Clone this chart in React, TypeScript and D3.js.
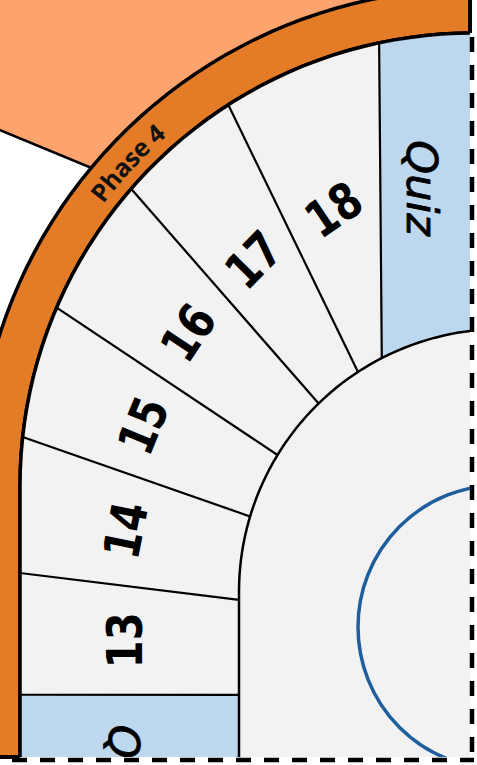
import React from "react";
import * as d3 from "d3";

// ring segments, from the top box round to the left side
const SEGMENTS = ["Quiz", "18", "17", "16", "15", "14", "13", "Quiz"];
const SEGMENT_KIND = ["quiz", "day", "day", "day", "day", "day", "day", "quiz"];
const PHASE_LABEL = "Phase 4";

// where each divider meets the outer / inner track (degrees along the track,
// 90 = top, 180 = left, past 180 = down the straight side)
const OUTER_STOPS = [78, 101.96, 122.7, 139.0, 156.8, 173.8, 191.0, 206.4, 245];
const INNER_STOPS = [84, 117.2, 123.2, 134.2, 148.6, 163.3, 181.7, 202.4, 245];

const W = 477;
const H = 765;
const CLIP_RIGHT = 470;
const CLIP_BOTTOM = 757;

const BAND = { cx: 473, cy: 486 };
const R_BAND_IN = 453;
const R_BAND_OUT = 497;
const HUB = { cx: 502, cy: 592 };
const R_HUB = 263;
const RING = { cx: 500, cy: 627, r: 142 };

const COLORS = {
  salmon: "#FDA46E",
  band: "#E47B27",
  day: "#F2F2F2",
  quiz: "#BDD7EE",
  ring: "#1F5E9C",
  ink: "#000",
};

const angle = d3.scaleLinear().domain([0, 180]).range([0, Math.PI]);
// label tilt: "18" (index 1) leans least, "13" (index 6) stands upright
const labelTilt = d3.scaleLinear().domain([1, 6]).range([-34, -90]);

function track(c: { cx: number; cy: number }, r: number, deg: number): [number, number] {
  if (deg <= 180) {
    const a = angle(deg);
    return [c.cx + r * Math.cos(a), c.cy - r * Math.sin(a)];
  }
  return [c.cx - r, c.cy + r * angle(deg - 180)];
}

function trackPts(c: { cx: number; cy: number }, r: number, d0: number, d1: number, n = 90) {
  return d3.range(n + 1).map((i) => track(c, r, d0 + ((d1 - d0) * i) / n));
}

const line = d3.line();

export default function App() {
  const bandPath =
    line([...trackPts(BAND, R_BAND_OUT, 70, 250), ...trackPts(BAND, R_BAND_IN, 250, 70)]) + "Z";

  const segPaths = SEGMENTS.map((label, i) => {
    const pts = [
      ...trackPts(BAND, R_BAND_IN, OUTER_STOPS[i], OUTER_STOPS[i + 1], 40),
      ...trackPts(HUB, R_HUB, INNER_STOPS[i + 1], INNER_STOPS[i], 40),
    ];
    return { label, kind: SEGMENT_KIND[i], d: line(pts) + "Z" };
  });

  const dividers = OUTER_STOPS.slice(1, -1).map((o, i) => [
    track(BAND, R_BAND_IN, o),
    track(HUB, R_HUB, INNER_STOPS[i + 1]),
  ]);

  const dayLabels = SEGMENTS.map((label, i) => {
    if (SEGMENT_KIND[i] !== "day") return null;
    const o = track(BAND, R_BAND_IN, (OUTER_STOPS[i] + OUTER_STOPS[i + 1]) / 2);
    const n = track(HUB, R_HUB, (INNER_STOPS[i] + INNER_STOPS[i + 1]) / 2);
    const t = 0.52;
    const x = n[0] + (o[0] - n[0]) * t;
    const y = n[1] + (o[1] - n[1]) * t;
    return { label, x, y, rot: labelTilt(i) };
  }).filter(Boolean) as { label: string; x: number; y: number; rot: number }[];

  // top quiz box label
  const topSep = track(BAND, R_BAND_IN, OUTER_STOPS[1]);
  const topX = (topSep[0] + CLIP_RIGHT) / 2;
  const topOuterY = BAND.cy - Math.sqrt(R_BAND_IN ** 2 - (topX - BAND.cx) ** 2);
  const topInnerY = HUB.cy - Math.sqrt(R_HUB ** 2 - (topX - HUB.cx) ** 2);
  const topY = (topOuterY + topInnerY) / 2;

  // bottom quiz box label
  const botSepO = track(BAND, R_BAND_IN, OUTER_STOPS[7]);
  const botSepI = track(HUB, R_HUB, INNER_STOPS[7]);
  const botX = (botSepO[0] + botSepI[0]) / 2 - 6;
  const botY = botSepO[1] + 30;

  const hubPts = trackPts(HUB, R_HUB, 40, 250, 120);
  const hubFill = line([...hubPts, [700, 1200], [700, 200]]) + "Z";
  const hubEdge = line(hubPts) || "";

  const phaseMid = 136.9;
  const phaseArc =
    line(trackPts(BAND, (R_BAND_IN + R_BAND_OUT) / 2, phaseMid + 35, phaseMid - 35, 60)) || "";

  const capTop = BAND.cy - Math.sqrt(R_BAND_IN ** 2 - (CLIP_RIGHT - BAND.cx) ** 2);
  const capLeft = BAND.cx - R_BAND_IN;

  return (
    <svg
      width={W}
      height={H}
      viewBox={`0 0 ${W} ${H}`}
      style={{ position: "fixed", left: 0, top: 0, background: "#fff" }}
    >
      <defs>
        <clipPath id="crop">
          <rect x={-20} y={-20} width={CLIP_RIGHT + 20} height={CLIP_BOTTOM + 20} />
        </clipPath>
        <path id="phaseArc" d={phaseArc} />
      </defs>
      <g clipPath="url(#crop)">
        <rect x={-20} y={-20} width={W + 40} height={H + 40} fill={COLORS.salmon} />
        <path d="M-10,126L140,188L140,800L-10,800Z" fill="#fff" />
        <path d="M-10,126L140,188" stroke={COLORS.ink} strokeWidth={2.5} fill="none" />

        <path d={bandPath} fill={COLORS.band} stroke={COLORS.ink} strokeWidth={3.5} />

        {segPaths.map((s, i) => (
          <path key={i} d={s.d} fill={s.kind === "quiz" ? COLORS.quiz : COLORS.day} />
        ))}
        {dividers.map((d, i) => (
          <path key={i} d={line(d) || ""} stroke={COLORS.ink} strokeWidth={2.2} />
        ))}

        <path d={hubFill} fill={COLORS.day} />
        <path d={hubEdge} fill="none" stroke={COLORS.ink} strokeWidth={2.5} />
        <path
          d={line(trackPts(BAND, R_BAND_IN, 70, 250)) || ""}
          fill="none"
          stroke={COLORS.ink}
          strokeWidth={3.5}
        />

        <circle cx={RING.cx} cy={RING.cy} r={RING.r} fill="none" stroke={COLORS.ring} strokeWidth={3.5} />

        <text
          fontFamily="'Open Sans', sans-serif"
          fontWeight={700}
          fontSize={25}
          fill="#111"
          dominantBaseline="central"
        >
          <textPath href="#phaseArc" startOffset="50%" textAnchor="middle">
            {PHASE_LABEL}
          </textPath>
        </text>

        {dayLabels.map((l) => (
          <text
            key={l.label}
            transform={`translate(${l.x},${l.y}) rotate(${l.rot}) scale(0.8,1)`}
            textAnchor="middle"
            dominantBaseline="central"
            fontFamily="'DejaVu Sans', sans-serif"
            fontWeight={700}
            fontSize={50}
            fill={COLORS.ink}
          >
            {l.label}
          </text>
        ))}

        <text
          transform={`translate(${topX - 3},${topY}) rotate(90)`}
          textAnchor="middle"
          dominantBaseline="central"
          fontFamily="'DejaVu Sans', sans-serif"
          fontStyle="italic"
          fontSize={43}
          stroke={COLORS.ink}
          strokeWidth={0.8}
          fill={COLORS.ink}
        >
          {SEGMENTS[0]}
        </text>
        <text
          transform={`translate(${botX},${botY}) rotate(90)`}
          textAnchor="start"
          dominantBaseline="central"
          fontFamily="'DejaVu Sans', sans-serif"
          fontStyle="italic"
          fontSize={43}
          stroke={COLORS.ink}
          strokeWidth={0.8}
          fill={COLORS.ink}
        >
          {SEGMENTS[7]}
        </text>
      </g>

      <rect x={CLIP_RIGHT} y={0} width={W - CLIP_RIGHT} height={H} fill="#fff" />
      <rect x={0} y={CLIP_BOTTOM + 1} width={W} height={H - CLIP_BOTTOM} fill="#fff" />
      <line x1={CLIP_RIGHT} y1={-2} x2={CLIP_RIGHT} y2={capTop} stroke={COLORS.ink} strokeWidth={4} />
      <line x1={-2} y1={CLIP_BOTTOM} x2={capLeft} y2={CLIP_BOTTOM} stroke={COLORS.ink} strokeWidth={4} />

      <line x1={472} y1={capTop + 4} x2={472} y2={760} stroke={COLORS.ink} strokeWidth={4.5} strokeDasharray="15 13" />
      <line x1={12} y1={760} x2={474} y2={760} stroke={COLORS.ink} strokeWidth={4.5} strokeDasharray="15 13" />
    </svg>
  );
}
